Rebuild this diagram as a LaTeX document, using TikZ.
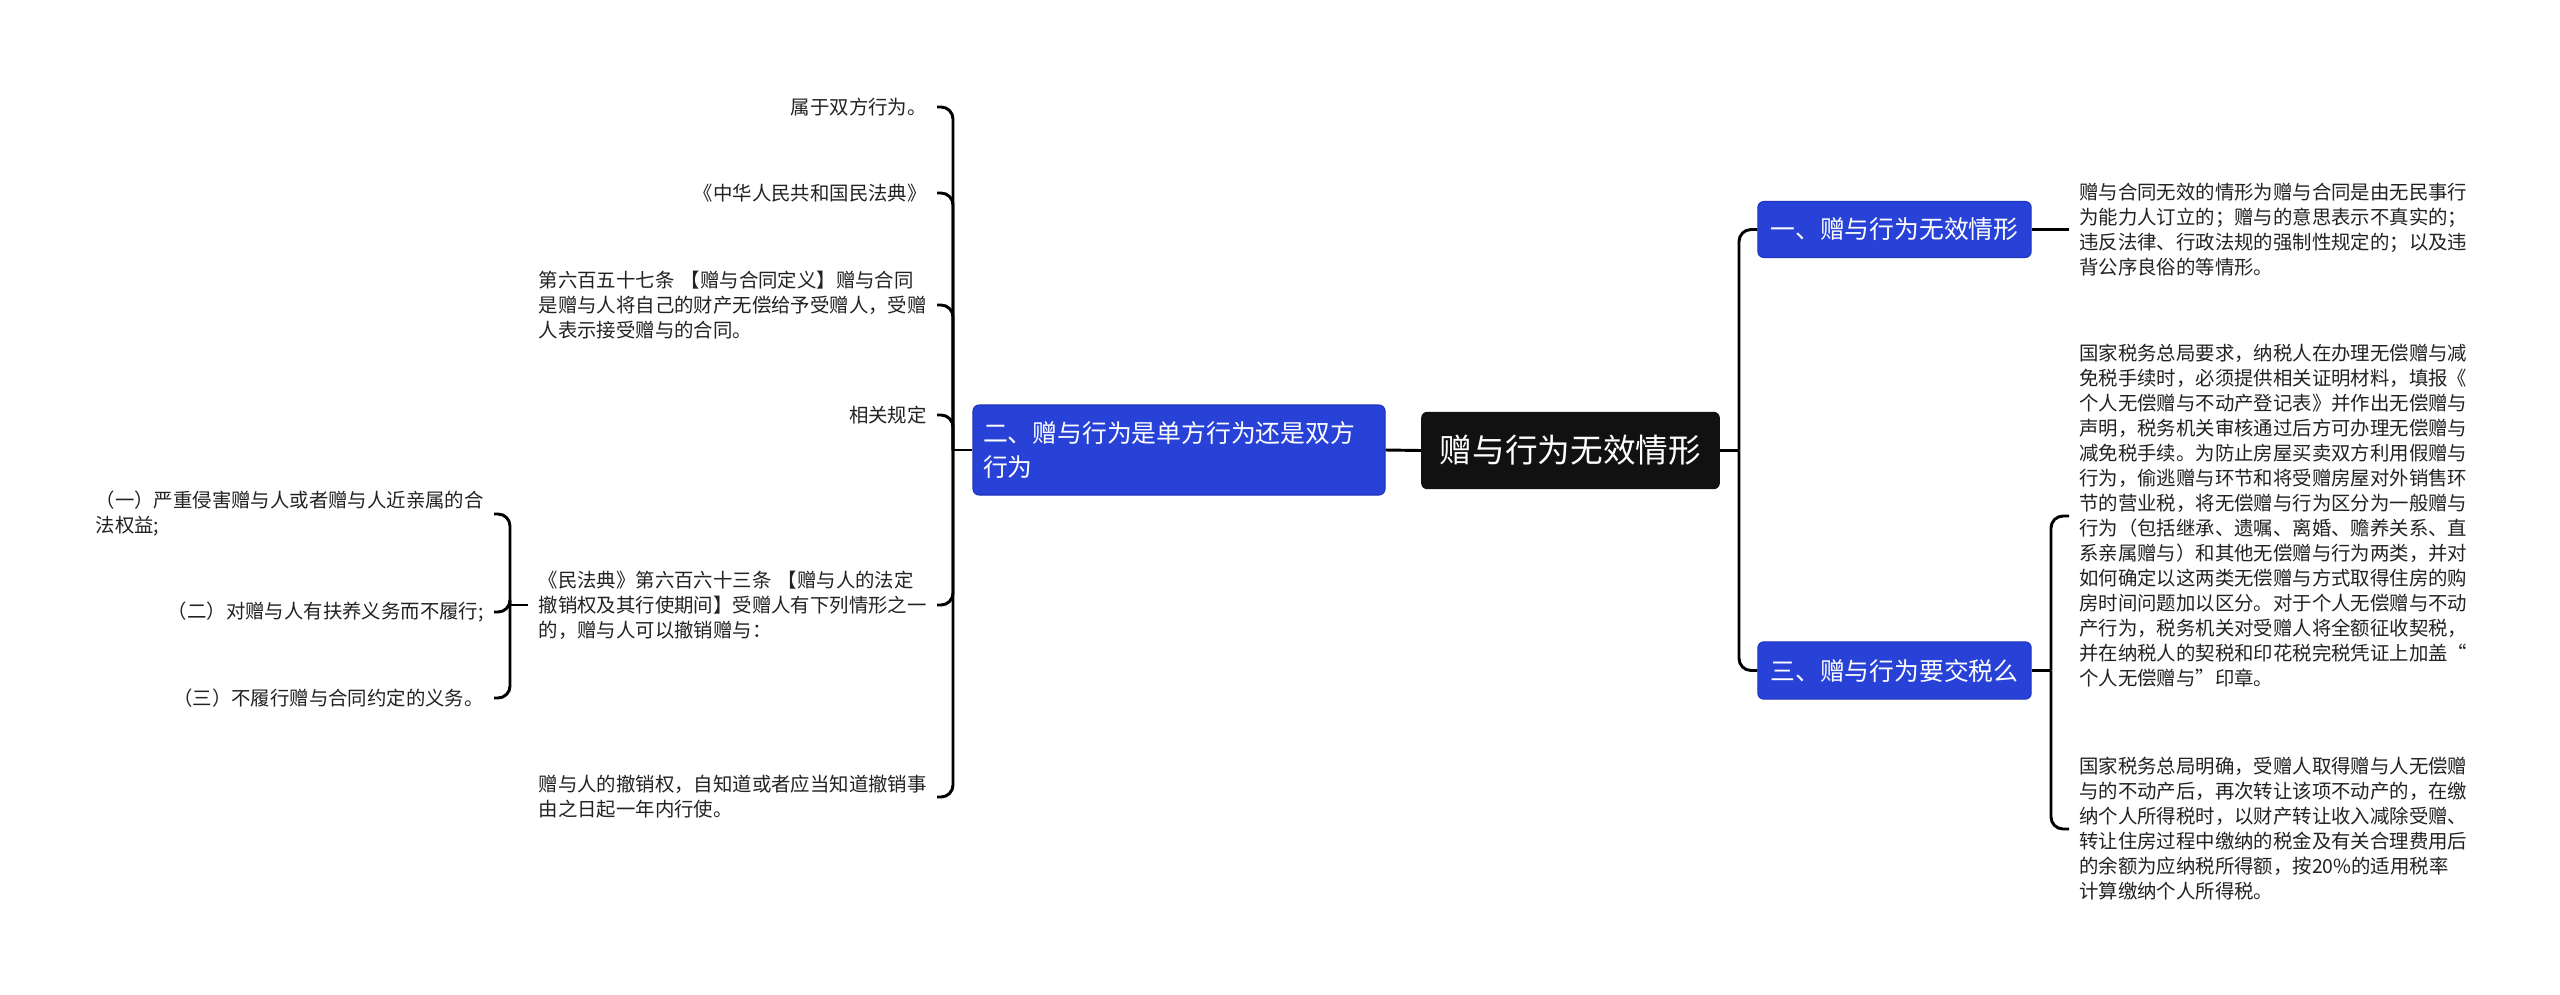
\documentclass[tikz,border=0pt]{standalone}
\usepackage{fontspec}
\setmainfont{Noto Sans CJK SC}
\definecolor{mmblue}{RGB}{40,66,216}
\definecolor{mmblueborder}{RGB}{30,52,190}
\definecolor{rootblack}{RGB}{17,17,17}
\definecolor{textgray}{RGB}{34,34,34}
\begin{document}
\begin{tikzpicture}[x=0.75pt,y=-0.75pt,
  conn/.style={line width=2.2pt, draw=black, rounded corners=9pt},
  straightconn/.style={line width=2.2pt, draw=black},
  leaf/.style={inner xsep=7.5pt, inner ysep=2pt, text=textgray, font=\fontsize{14.55pt}{18.75pt}\selectfont},
  leafw/.style={leaf, text width=291pt, align=left},
  bluebox/.style={fill=mmblue, draw=mmblueborder, line width=0.8pt, rounded corners=4.5pt, text=white, font=\fontsize{18.6pt}{25.5pt}\selectfont, inner sep=0pt},
  rootbox/.style={fill=rootblack, rounded corners=4.5pt, text=white, font=\fontsize{24.5pt}{30pt}\selectfont, minimum width=224pt, minimum height=58pt, inner sep=0pt}]
\fill[white] (0,0) rectangle (2560,995);
\useasboundingbox (0,0) rectangle (2560,995);

% main nodes
\node[rootbox] (root) at (1570.5,450.5) {赠与行为无效情形};
\node[bluebox, minimum width=309pt, minimum height=67.5pt, text width=294pt, align=left] (lb) at (1179,450) {二、赠与行为是单方行为还是双方\\行为};
\node[bluebox, minimum width=205pt, minimum height=42pt] (b1) at (1894.5,229.5) {一、赠与行为无效情形};
\node[bluebox, minimum width=205pt, minimum height=43pt] (b3) at (1894.5,670.5) {三、赠与行为要交税么};

% left leaves
\node[leaf, anchor=east] (l1) at (937,107) {属于双方行为。};
\node[leaf, anchor=east] (l2) at (937,193) {《中华人民共和国民法典》};
\node[leafw, anchor=east] (l3) at (937,305) {第六百五十七条 【赠与合同定义】赠与合同\\是赠与人将自己的财产无偿给予受赠人，受赠\\人表示接受赠与的合同。};
\node[leaf, anchor=east] (l4) at (937,415) {相关规定};
\node[leafw, anchor=east] (l5) at (937,605) {《民法典》第六百六十三条 【赠与人的法定\\撤销权及其行使期间】受赠人有下列情形之一\\的，赠与人可以撤销赠与：};
\node[leafw, anchor=east] (l6) at (937,797) {赠与人的撤销权，自知道或者应当知道撤销事\\由之日起一年内行使。};

% children of l5
\node[leafw, anchor=east] (c1) at (494,514) {（一）严重侵害赠与人或者赠与人近亲属的合\\法权益;};
\node[leaf, anchor=east] (c2) at (494,612) {（二）对赠与人有扶养义务而不履行;};
\node[leaf, anchor=east] (c3) at (494,698) {（三）不履行赠与合同约定的义务。};

% right leaves
\node[leafw, anchor=west] (r1) at (2069,229.5) {赠与合同无效的情形为赠与合同是由无民事行\\为能力人订立的；赠与的意思表示不真实的；\\违反法律、行政法规的强制性规定的；以及违\\背公序良俗的等情形。};
\node[leafw, anchor=west] (r3a) at (2069,516) {国家税务总局要求，纳税人在办理无偿赠与减\\免税手续时，必须提供相关证明材料，填报《\\个人无偿赠与不动产登记表》并作出无偿赠与\\声明，税务机关审核通过后方可办理无偿赠与\\减免税手续。为防止房屋买卖双方利用假赠与\\行为，偷逃赠与环节和将受赠房屋对外销售环\\节的营业税，将无偿赠与行为区分为一般赠与\\行为（包括继承、遗嘱、离婚、赡养关系、直\\系亲属赠与）和其他无偿赠与行为两类，并对\\如何确定以这两类无偿赠与方式取得住房的购\\房时间问题加以区分。对于个人无偿赠与不动\\产行为，税务机关对受赠人将全额征收契税，\\并在纳税人的契税和印花税完税凭证上加盖“\\个人无偿赠与”印章。};
\node[leafw, anchor=west] (r3b) at (2069,829) {国家税务总局明确，受赠人取得赠与人无偿赠\\与的不动产后，再次转让该项不动产的，在缴\\纳个人所得税时，以财产转让收入减除受赠、\\转让住房过程中缴纳的税金及有关合理费用后\\的余额为应纳税所得额，按20\%的适用税率\\计算缴纳个人所得税。};

% spine coordinates
\coordinate (ls) at (953,450);
\coordinate (cs) at (510,605);
\coordinate (rs) at (1739,450.5);
\coordinate (r3s) at (2051,670.5);

% connectors
\draw[straightconn] (root.west) -- (lb.east);
\draw[straightconn] (lb.west) -- (ls);
\foreach \n in {l1,l2,l3,l4,l5,l6} \draw[conn] (ls) |- (\n.east);
\draw[straightconn] (l5.west) -- (cs);
\foreach \n in {c1,c2,c3} \draw[conn] (cs) |- (\n.east);
\draw[straightconn] (root.east) -- (rs);
\draw[conn] (rs) |- (b1.west);
\draw[conn] (rs) |- (b3.west);
\draw[straightconn] (b1.east) -- (r1.west);
\draw[straightconn] (b3.east) -- (r3s);
\draw[conn] (r3s) |- (r3a.west);
\draw[conn] (r3s) |- (r3b.west);
\end{tikzpicture}
\end{document}
